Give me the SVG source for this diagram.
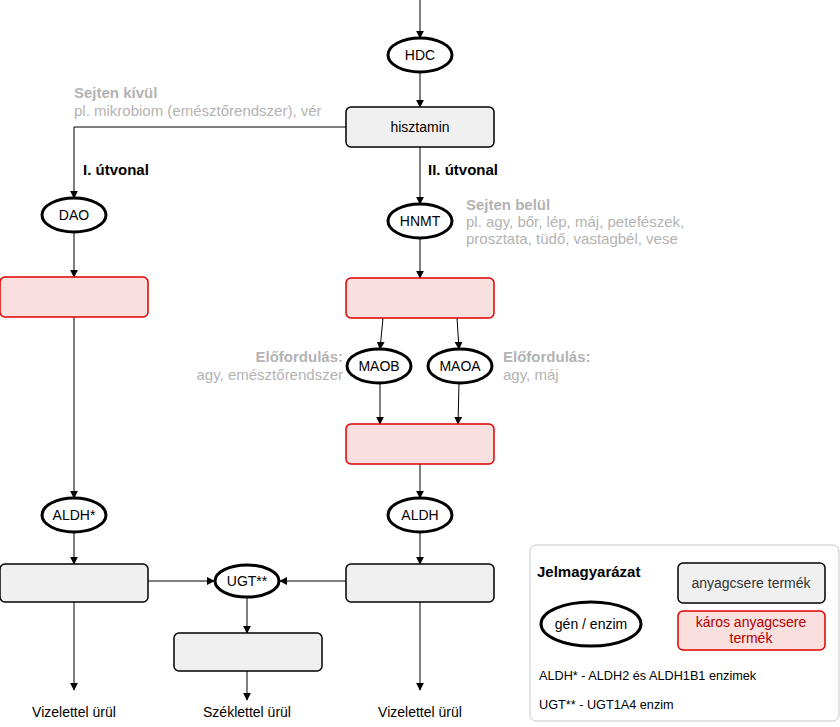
<svg xmlns="http://www.w3.org/2000/svg" width="840" height="727" viewBox="0 0 840 727">
<defs>
<marker id="a" viewBox="0 0 10 10" refX="9" refY="5" markerWidth="8" markerHeight="8" markerUnits="userSpaceOnUse" orient="auto"><path d="M0,0L10,5L0,10z" fill="#000"/></marker>
<style>
text{font-family:"Liberation Sans",Arial,sans-serif;font-size:14px}
.c{text-anchor:middle}
.g{fill:#f0f0f0;stroke:#000;stroke-width:1.5}
.r{fill:#fadfdf;stroke:#e00000;stroke-width:1.5}
.e{fill:#fff;stroke:#000;stroke-width:3}
.l{fill:none;stroke:#000;stroke-width:1;marker-end:url(#a)}
.gr{fill:#b3b3b3;font-size:15px}
.b{font-weight:bold;font-size:15px}
.n{font-size:12.7px}
</style>
</defs>
<g id="connectors">
<path class="l" d="M420,0V38"/>
<path class="l" d="M420,72V107"/>
<path class="l" d="M346,127H74V198"/>
<path class="l" d="M420,147V204"/>
<path class="l" d="M74,232V277"/>
<path class="l" d="M420,238V278"/>
<path class="l" d="M383,318L380,349"/>
<path class="l" d="M457,318L459,349"/>
<path class="l" d="M380,383V424"/>
<path class="l" d="M459,383L458,424"/>
<path class="l" d="M74,317V498"/>
<path class="l" d="M420,464V498"/>
<path class="l" d="M74,532V564"/>
<path class="l" d="M420,532V564"/>
<path class="l" d="M148,581H214"/>
<path class="l" d="M346,581H280"/>
<path class="l" d="M247,598V633"/>
<path class="l" d="M74,602V690"/>
<path class="l" d="M420,602V690"/>
<path class="l" d="M247,671V700"/>
</g>
<g id="HDC"><ellipse class="e" cx="420" cy="55" rx="32" ry="17"/><text class="c" x="420" y="60">HDC</text></g>
<g id="hisztamin"><rect class="g" x="346" y="107" width="148" height="40" rx="5"/><text class="c" x="420" y="132">hisztamin</text></g>
<g id="kivul"><text class="gr b" x="74" y="98">Sejten kívül</text><text class="gr" x="74" y="116">pl. mikrobiom (emésztőrendszer), vér</text></g>
<g id="ut1"><text class="b" x="83" y="175">I. útvonal</text></g>
<g id="ut2"><text class="b" x="428" y="175">II. útvonal</text></g>
<g id="DAO"><ellipse class="e" cx="74" cy="215" rx="32" ry="17"/><text class="c" x="74" y="220">DAO</text></g>
<g id="HNMT"><ellipse class="e" cx="420" cy="221" rx="32" ry="17"/><text class="c" x="420" y="226">HNMT</text></g>
<g id="belul"><text class="gr b" x="466" y="210">Sejten belül</text><text class="gr" x="466" y="227">pl. agy, bőr, lép, máj, petefészek,</text><text class="gr" x="466" y="244">prosztata, tüdő, vastagbél, vese</text></g>
<g id="red1"><rect class="r" x="0" y="277" width="148" height="40" rx="5"/></g>
<g id="red2"><rect class="r" x="346" y="278" width="148" height="40" rx="5"/></g>
<g id="MAOB"><ellipse class="e" cx="379" cy="366" rx="32" ry="17"/><text class="c" x="379" y="371">MAOB</text></g>
<g id="MAOA"><ellipse class="e" cx="460" cy="366" rx="32" ry="17"/><text class="c" x="460" y="371">MAOA</text></g>
<g id="elo1"><text class="gr b" x="343" y="362" text-anchor="end">Előfordulás:</text><text class="gr" x="343" y="380" text-anchor="end">agy, emésztőrendszer</text></g>
<g id="elo2"><text class="gr b" x="503" y="362">Előfordulás:</text><text class="gr" x="503" y="380">agy, máj</text></g>
<g id="red3"><rect class="r" x="346" y="424" width="148" height="40" rx="5"/></g>
<g id="ALDHs"><ellipse class="e" cx="74" cy="515" rx="32" ry="17"/><text class="c" x="74" y="520">ALDH*</text></g>
<g id="ALDH"><ellipse class="e" cx="420" cy="515" rx="32" ry="17"/><text class="c" x="420" y="520">ALDH</text></g>
<g id="g1"><rect class="g" x="0" y="564" width="148" height="38" rx="5"/></g>
<g id="g2"><rect class="g" x="346" y="564" width="148" height="38" rx="5"/></g>
<g id="UGT"><ellipse class="e" cx="247" cy="581" rx="32" ry="16"/><text class="c" x="247" y="586">UGT**</text></g>
<g id="g3"><rect class="g" x="174" y="633" width="148" height="38" rx="5"/></g>
<g id="out"><text class="c" x="74" y="717">Vizelettel ürül</text><text class="c" x="247" y="717">Széklettel ürül</text><text class="c" x="420" y="717">Vizelettel ürül</text></g>
<g id="legend">
<rect x="530" y="545" width="309" height="176" rx="6" fill="#fff" stroke="#c8c8c8" stroke-width="1"/>
<text class="b" x="537" y="577">Jelmagyarázat</text>
<rect class="g" x="678" y="563" width="147" height="40" rx="5"/><text class="c" x="751" y="588" fill="#333">anyagcsere termék</text>
<ellipse class="e" cx="591" cy="624" rx="50" ry="22"/><text class="c" x="591" y="629">gén / enzim</text>
<rect class="r" x="678" y="611" width="147" height="39" rx="5"/><text class="c" x="751" y="627" fill="#b00000">káros anyagcsere</text><text class="c" x="751" y="643" fill="#b00000">termék</text>
<text class="n" x="539" y="680">ALDH* - ALDH2 és ALDH1B1 enzimek</text>
<text class="n" x="539" y="709">UGT** - UGT1A4 enzim</text>
</g>
</svg>
